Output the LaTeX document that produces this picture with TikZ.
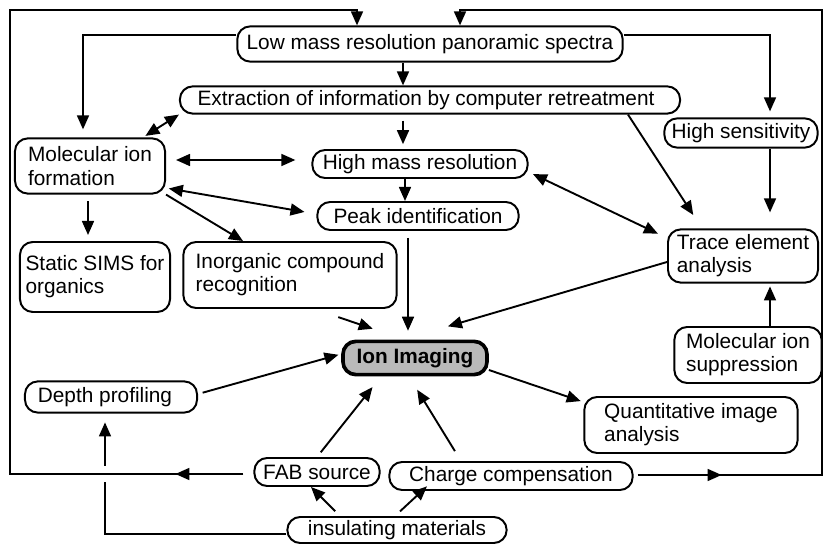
\documentclass[tikz,border=0pt]{standalone}
\usepackage{fontspec}
\setmainfont{Liberation Sans}
\usetikzlibrary{arrows.meta}
\usetikzlibrary{decorations.markings}
\newcommand{\bxrnd}{0.32cm}
\newcommand{\bxlw}{1.4pt}
\newcommand{\lklw}{1.35pt}
\newcommand{\tipl}{10pt}
\newcommand{\tipw}{8.5pt}
\newcommand{\mapfont}{\fontsize{14.8}{16.5}\selectfont}

\begin{document}
\begin{tikzpicture}[x=0.025cm,y=-0.025cm,font=\mapfont,
    box/.style={draw,rounded corners=\bxrnd,line width=\bxlw,align=left,
      inner xsep=4pt,inner ysep=2pt},
    link/.style={line width=\lklw,-{Triangle[length=\tipl,width=\tipw]}},
    both/.style={line width=\lklw,
      {Triangle[length=\tipl,width=\tipw]}-{Triangle[length=\tipl,width=\tipw]}},
    midtip/.style={postaction={decorate,decoration={markings,
      mark=at position #1 with {\arrow{Triangle[length=\tipl,width=\tipw]}}}}}]
    \useasboundingbox (0,0) rectangle (824,544);

    \node[box,minimum width=9.63cm,minimum height=0.88cm] (low) at (430,44)
      {Low mass resolution panoramic spectra};
    \node[box,minimum width=12.5cm,minimum height=0.68cm] (extr) at (430,100)
      {Extraction of information by computer retreatment\hspace*{0.2cm}};
    \node[box,minimum width=3.83cm,minimum height=0.73cm] (hsens) at (741,133)
      {High sensitivity};
    \node[box,minimum width=3.75cm,minimum height=1.38cm] (mol) at (90,166)
      {Molecular ion\\formation};
    \node[box,minimum width=5.38cm,minimum height=0.7cm] (hmass) at (420,164)
      {High mass resolution};
    \node[box,minimum width=5.03cm,minimum height=0.7cm] (peak) at (418,216)
      {Peak identification};
    \node[box,minimum width=3.7cm,minimum height=1.75cm] (static) at (95,277)
      {Static SIMS for\\organics};
    \node[box,minimum width=5.33cm,minimum height=1.65cm] (inorg) at (290,275)
      {Inorganic compound\\recognition};
    \node[box,minimum width=3.75cm,minimum height=1.33cm] (trace) at (743,256)
      {Trace element\\analysis};
    \node[box,minimum width=3.68cm,minimum height=1.4cm] (molsup) at (748,355)
      {Molecular ion\\suppression};
    \node[box,line width=2.6pt,fill=black!27,font=\mapfont\bfseries,
      minimum width=3.6cm,minimum height=0.83cm] (ion) at (415,358)
      {Ion Imaging};
    \node[box,minimum width=4.3cm,minimum height=0.78cm] (depth) at (111,397)
      {Depth profiling\hspace*{0.3cm}};
    \node[box,minimum width=5.33cm,minimum height=1.4cm] (quant) at (691,425)
      {Quantitative image\\analysis};
    \node[box,minimum width=3.13cm,minimum height=0.7cm] (fab) at (317,472)
      {FAB source};
    \node[box,minimum width=6.08cm,minimum height=0.7cm] (charge) at (511,476)
      {Charge compensation};
    \node[box,minimum width=5.48cm,minimum height=0.65cm] (insul) at (397,530)
      {insulating materials};

    \coordinate (tl) at (10,10);
    \coordinate (tr) at (822,10);

    % spectra and extraction
    \draw[link] (low.south -| 403,0) -- (extr.north -| 403,0);
    \draw[link,shorten >=0.2cm] (low.west |- 0,35) -| (mol.north -| 83,0);
    \draw[link,shorten >=0.15cm] (low.east |- 0,35) -| (hsens.north -| 770,0);
    \draw[link,shorten <=0.15cm,shorten >=0.12cm]
      (extr.south -| 403,0) -- (hmass.north -| 403,0);
    \draw[both,shorten >=0.07cm] (extr.south west) -- (mol.north east -| 143,0);
    \draw[link,shorten >=0.4cm] (extr.south -| 628,0) -- (trace.north -| 702,0);

    % molecular ion formation
    \draw[both,shorten <=0.25cm,shorten >=0.4cm]
      (mol.east |- 0,160) -- (hmass.west |- 0,160);
    \draw[both,shorten <=0.07cm,shorten >=0.3cm]
      (mol.east |- 0,188) -- (peak.west |- 0,214);
    \draw[link,shorten <=0.17cm,shorten >=0.15cm]
      (mol.south -| 88,0) -- (static.north -| 88,0);
    \draw[link] (mol.south east) -- (inorg.north -| 243,0);

    % mass resolution and trace elements
    \draw[link] (hmass.south -| 405,0) -- (peak.north -| 405,0);
    \draw[both,shorten <=0.12cm,shorten >=0.25cm]
      (hmass.east |- 0,172) -- (trace.west |- 0,238);
    \draw[link,shorten >=0.4cm] (hsens.south -| 770,0) -- (trace.north -| 770,0);
    \draw[link,shorten >=0.07cm] (molsup.north -| 770,0) -- (trace.south -| 770,0);

    % into and out of imaging
    \draw[link,shorten <=0.17cm,shorten >=0.22cm]
      (peak.south -| 408,0) -- (ion.north -| 408,0);
    \draw[link,shorten <=0.64cm,shorten >=0.85cm]
      (inorg.south -| 314,0) -- (ion.north -| 405,0);
    \draw[link,shorten >=1.17cm] (trace.west |- 0,262) -- (ion.north -| 403,0);
    \draw[link,shorten <=0.12cm,shorten >=0.07cm]
      (depth.east |- 0,394) -- (ion.west |- 0,354);
    \draw[link,shorten >=0.07cm] (ion.east |- 0,370) -- (quant.north west |- 0,402);
    \draw[link,shorten <=0.15cm,shorten >=0.34cm] (fab.north) -- (ion.south -| 381,0);
    \draw[link,shorten <=0.29cm,shorten >=0.39cm]
      (charge.north -| 461,0) -- (ion.south -| 409,0);

    % insulating samples
    \draw[link,shorten <=0.17cm] (insul.north -| 340,0) -- (fab.south -| 311,0);
    \draw[link,shorten <=0.17cm,shorten >=-0.17cm]
      (insul.north -| 395,0) -- (charge.south -| 422,0);
    \draw[link,shorten >=0.22cm] (insul.west |- 0,534) -| (depth.south -| 105,0);
    \fill[white] (98,466) rectangle (112,482);

    % feedback loops to the spectra
    \draw[link,shorten <=0.25cm,midtip=1.95cm]
      (fab.west |- 0,474) -| (tl) -| (low.north -| 357,0);
    \draw[link,shorten <=0.1cm,midtip=2.2cm]
      (charge.east |- 0,475) -| (tr) -| (low.north -| 460,0);
\end{tikzpicture}
\end{document}
